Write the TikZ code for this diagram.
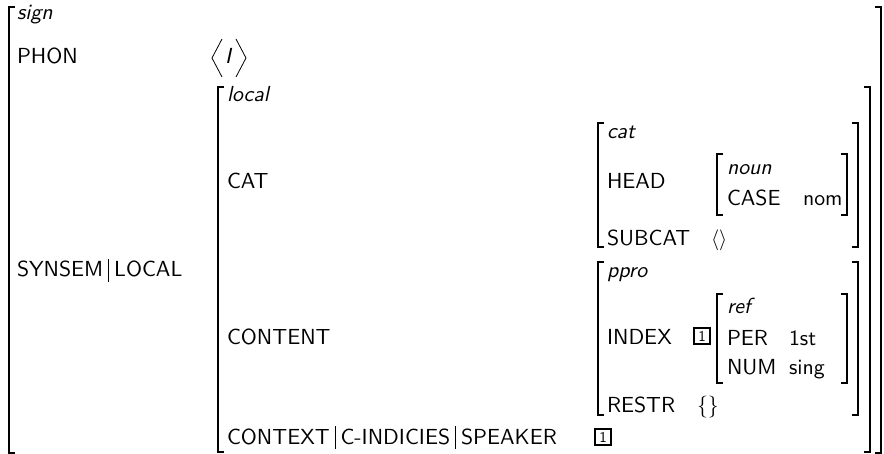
\documentclass[tikz,border=0pt]{standalone}
\usepackage{fontspec}
% the 10pt design of Latin Modern Sans, scaled up
\setsansfont{lmsans10-regular.otf}[ItalicFont=lmsans10-oblique.otf,BoldFont=lmsans10-bold.otf]
\newcommand\avmfont{\fontsize{21.8}{26}\selectfont\sffamily}
\newcommand\pbar{\hspace{5pt}\rule[-5pt]{0.9pt}{23pt}\hspace{5pt}}
% bracket pair of one feature matrix: left x, right x, top y, bottom y
\newcommand\avmbrk[4]{%
  \draw[brk] (#1+6,#3) -- (#1,#3) -- (#1,#4) -- (#1+6,#4);
  \draw[brk] (#2-6,#3) -- (#2,#3) -- (#2,#4) -- (#2-6,#4);}
\begin{document}
\begin{tikzpicture}[x=1pt,y=-1pt,
  every node/.style={inner sep=0pt,outer sep=0pt,anchor=base west,font=\avmfont},
  brk/.style={line width=1.4pt,line join=miter},
  ang/.style={line width=0.8pt,line join=miter},
  tagbox/.style={draw,line width=1.5pt,anchor=south west,minimum size=16pt,
    inner sep=0pt,font=\fontsize{15}{15}\selectfont\sffamily}]
\useasboundingbox (0,0) rectangle (884,454);

% outer sign matrix
\avmbrk{9}{881}{7}{453}
\node (sign) at (17,20) {\itshape sign};
\node (phon) at (17,64) {PHON};
\draw[ang] (222,39) -- (212,58) -- (222,77);
\node (phonval) at (225,64) {\itshape I};
\draw[ang] (236,39) -- (246,58) -- (236,77);
\node (synsem) at (17,277) {SYNSEM\pbar LOCAL};

% local matrix
\avmbrk{218}{870}{87}{452}
\node (local) at (227,102) {\itshape local};
\node (catf) at (227,189) {CAT};
\node (content) at (227,345) {CONTENT};
\node (context) at (227,444) {CONTEXT\pbar C-INDICIES\pbar SPEAKER};
\node[tagbox] (tagb) at (595,445) {1};

% cat matrix
\avmbrk{598}{858}{123}{247}
\node (cat) at (607,139) {\itshape cat};
\node (head) at (607,189) {HEAD};
\node (subcat) at (607,246) {SUBCAT};
\node (subval) at (711,246) {$\langle\rangle$};

% noun matrix
\avmbrk{717}{847}{154}{215}
\node (noun) at (727,175) {\itshape noun};
\node (case) at (727,206) {CASE};
\node (nom) at (803,206) {nom};

% ppro matrix
\avmbrk{598}{858}{262}{415}
\node (ppro) at (607,278) {\itshape ppro};
\node (index) at (607,345) {INDEX};
\node[tagbox] (taga) at (694,344) {1};
\node (restr) at (607,413) {RESTR};
\node (restrval) at (697,413) {\{\}};

% ref matrix
\avmbrk{717}{847}{294}{383}
\node (ref) at (727,314) {\itshape ref};
\node (per) at (727,346) {PER};
\node (perval) at (789,346) {1st};
\node (num) at (727,374) {NUM};
\node (numval) at (789,374) {sing};
\end{tikzpicture}
\end{document}
